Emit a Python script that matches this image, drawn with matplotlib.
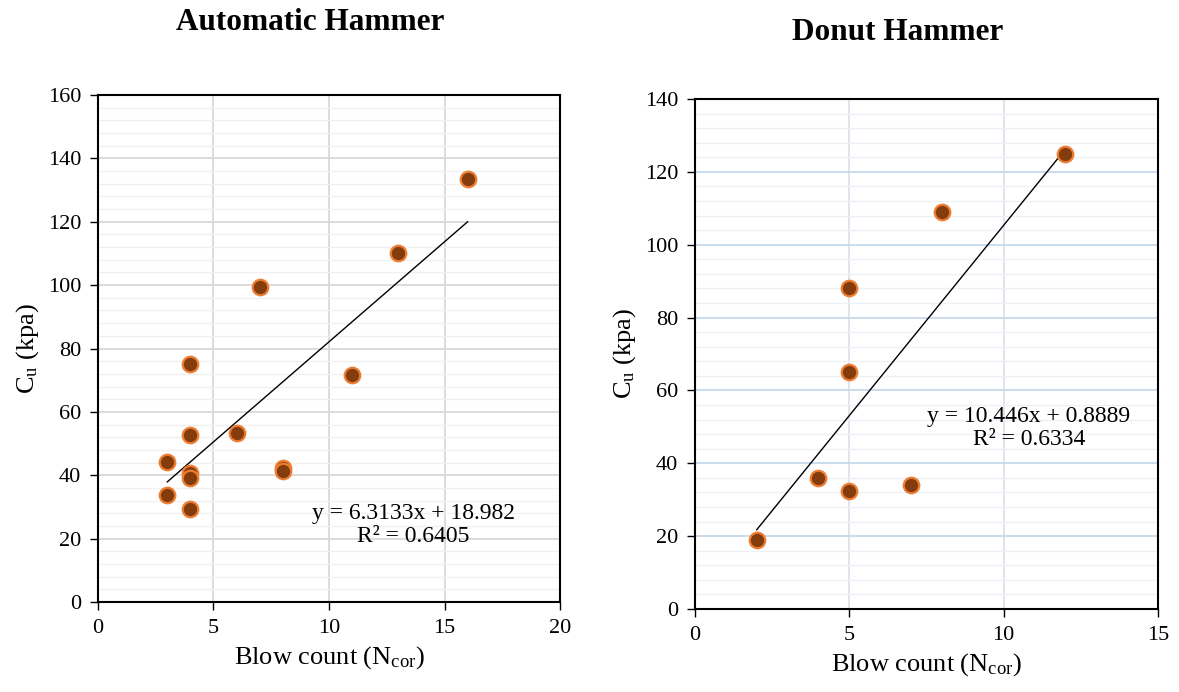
import numpy as np
import matplotlib
matplotlib.use('Agg')
import matplotlib.pyplot as plt
from matplotlib.ticker import MultipleLocator

plt.rcParams['font.family'] = ['Liberation Serif', 'DejaVu Serif']
plt.rcParams['mathtext.fontset'] = 'custom'
plt.rcParams['mathtext.rm'] = 'Liberation Serif'
plt.rcParams['mathtext.it'] = 'Liberation Serif:italic'

# --------------------------------------------------
# data: blow count vs undrained shear strength
# --------------------------------------------------
auto_n = [16, 13, 7, 11, 4, 4, 6, 3, 4, 4, 8, 8, 3, 4]
auto_cu = [133.5, 110.2, 99.5, 71.5, 75.1, 52.6, 53.2, 44.3, 40.6, 39.3, 42.3, 41.5, 33.9, 29.5]
auto_fit = (6.3133, 18.982)
auto_eq = 'y = 6.3133x + 18.982\nR² = 0.6405'

donut_n = [12, 8, 5, 5, 4, 5, 7, 2]
donut_cu = [125.0, 109.1, 88.1, 65.0, 36.0, 32.5, 34.1, 19.0]
donut_fit = (10.446, 0.8889)
donut_eq = 'y = 10.446x + 0.8889\nR² = 0.6334'

mk_face = '#843c0c'
mk_edge = '#ed7d31'

fig = plt.figure(figsize=(11.79, 6.92), dpi=100)
ax1 = fig.add_axes([0.0831, 0.130, 0.3919, 0.7327])
ax2 = fig.add_axes([0.5895, 0.1199, 0.3927, 0.737])


def draw_panel(ax, n, cu, fit, eq, xmax, ymax, major_col, minor_col, vcol, eq_xy):
    ax.set_xlim(0, xmax)
    ax.set_ylim(0, ymax)
    ax.xaxis.set_major_locator(MultipleLocator(5))
    ax.yaxis.set_major_locator(MultipleLocator(20))
    ax.yaxis.set_minor_locator(MultipleLocator(4))
    ax.grid(which='major', axis='y', color=major_col, lw=1.3, zorder=0)
    ax.grid(which='minor', axis='y', color=minor_col, lw=1.0, zorder=0)
    ax.grid(which='major', axis='x', color=vcol, lw=1.3, zorder=0)
    ax.tick_params(which='minor', left=False)
    ax.tick_params(which='major', direction='out', length=6, width=1,
                   labelsize=16, colors='black', pad=6)
    for s in ax.spines.values():
        s.set_linewidth(1.5)
        s.set_color('black')
    ax.set_axisbelow(True)

    # trendline across the data range
    xs = np.array([min(n), max(n)])
    ax.plot(xs, fit[0] * xs + fit[1], color='black', lw=1, zorder=3)
    ax.scatter(n, cu, s=125, facecolor=mk_face, edgecolor=mk_edge,
               linewidths=1.6, zorder=4)

    ax.text(eq_xy[0], eq_xy[1], eq, transform=ax.transAxes, ha='center',
            va='center', fontsize=17, linespacing=1.1)

    ax.set_xlabel(r'Blow count (N$_{\mathrm{cor}}$)', fontsize=19, labelpad=5)
    ax.set_ylabel(r'C$_{\mathrm{u}}$ (kpa)', fontsize=19, labelpad=5)


draw_panel(ax1, auto_n, auto_cu, auto_fit, auto_eq, 20, 160,
           '#d9d9d9', '#f0f0f0', '#d9d9d9', (0.682, 0.152))
draw_panel(ax2, donut_n, donut_cu, donut_fit, donut_eq, 15, 140,
           '#c6d9ec', '#edf1f6', '#dde3ec', (0.721, 0.355))

fig.text(310 / 1179, 1 - 22 / 692, 'Automatic Hammer', fontsize=22.5,
         fontweight='bold', ha='center', va='center')
fig.text(898 / 1179, 1 - 33 / 692, 'Donut Hammer', fontsize=22.5,
         fontweight='bold', ha='center', va='center')

fig.savefig('out.png', dpi=100)
